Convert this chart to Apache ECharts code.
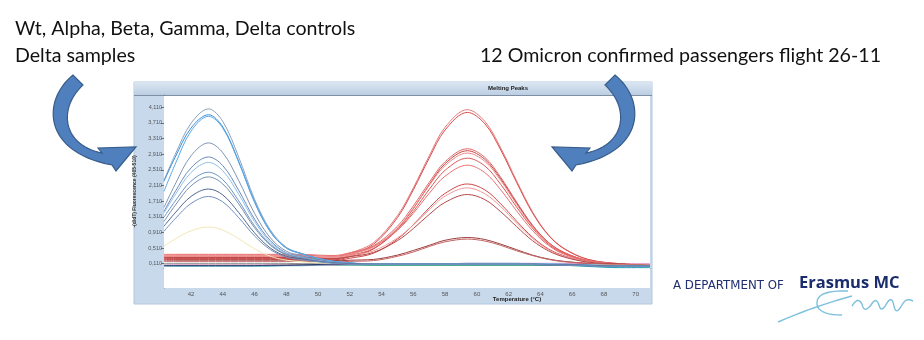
<!DOCTYPE html>
<html><head><meta charset="utf-8">
<script src="https://cdn.jsdelivr.net/npm/echarts@6/dist/echarts.min.js"></script>
<style>html,body{margin:0;padding:0;background:#fff}#c{width:924px;height:340px}</style>
</head><body><div id="c"></div>
<script>
// Temperature grid (°C)
const temperature = [40.3,41,42,43.1,44,45,46,47,48,49,50,51,52,53.5,55,56,57,58,59.4,60.5,61.5,62.5,63.5,64.5,65.5,67,69,70.9];
const xTicks = [42,44,46,48,50,52,54,56,58,60,62,64,66,68,70];
const yTicks = [0.11,0.51,0.91,1.31,1.71,2.11,2.51,2.91,3.31,3.71,4.11];

// Controls + Delta samples (blue, peak ~43 °C)
const blue1  = [2.24,2.90,3.70,4.07,3.75,2.84,1.76,0.97,0.53,0.37,0.25,0.17,0.13,0.10,0.10,0.10,0.10,0.10,0.11,0.11,0.11,0.11,0.10,0.10,0.09,0.07,0.05,0.05];
const blue2  = [2.22,2.83,3.58,3.92,3.61,2.73,1.70,0.93,0.51,0.36,0.24,0.17,0.13,0.09,0.09,0.09,0.10,0.10,0.10,0.10,0.10,0.10,0.10,0.09,0.08,0.06,0.04,0.04];
const blue3  = [1.96,2.65,3.50,3.88,3.58,2.71,1.68,0.92,0.51,0.36,0.24,0.17,0.13,0.11,0.11,0.11,0.11,0.11,0.12,0.12,0.12,0.12,0.11,0.11,0.10,0.08,0.06,0.06];
const blue4  = [1.55,2.14,2.87,3.20,2.95,2.24,1.40,0.77,0.43,0.31,0.21,0.15,0.12,0.10,0.10,0.10,0.10,0.10,0.10,0.10,0.10,0.10,0.10,0.09,0.09,0.07,0.05,0.05];
const blue5  = [1.45,1.95,2.56,2.84,2.62,1.99,1.25,0.70,0.39,0.28,0.20,0.14,0.12,0.09,0.09,0.09,0.09,0.09,0.10,0.10,0.10,0.10,0.09,0.09,0.08,0.06,0.05,0.04];
const blue6  = [1.41,1.87,2.44,2.70,2.49,1.89,1.19,0.66,0.38,0.27,0.19,0.14,0.11,0.11,0.11,0.11,0.11,0.11,0.11,0.11,0.11,0.11,0.10,0.10,0.09,0.07,0.06,0.05];
const blue7  = [1.30,1.71,2.22,2.45,2.26,1.72,1.08,0.61,0.35,0.26,0.18,0.13,0.11,0.10,0.10,0.10,0.10,0.10,0.10,0.10,0.10,0.10,0.10,0.09,0.09,0.07,0.05,0.05];
const blue8  = [1.19,1.60,2.10,2.33,2.15,1.64,1.03,0.58,0.34,0.25,0.18,0.13,0.11,0.09,0.09,0.09,0.09,0.09,0.09,0.09,0.09,0.09,0.09,0.08,0.08,0.06,0.04,0.04];
const blue9  = [1.07,1.41,1.83,2.02,1.87,1.42,0.90,0.51,0.30,0.23,0.17,0.13,0.11,0.10,0.10,0.10,0.10,0.10,0.10,0.10,0.10,0.10,0.10,0.09,0.09,0.07,0.05,0.05];
const blue10 = [0.94,1.26,1.65,1.83,1.69,1.29,0.82,0.47,0.28,0.21,0.16,0.12,0.10,0.09,0.09,0.09,0.09,0.09,0.09,0.09,0.09,0.09,0.09,0.08,0.08,0.06,0.04,0.04];
const yellow1 = [0.56,0.74,0.95,1.05,0.97,0.75,0.49,0.30,0.20,0.16,0.13,0.12,0.11,0.10,0.10,0.10,0.10,0.10,0.10,0.10,0.10,0.10,0.10,0.10,0.09,0.08,0.07,0.07];

// 12 Omicron passengers (red, peak ~59.4 °C)
const red1  = [0.30,0.30,0.30,0.30,0.30,0.30,0.30,0.30,0.30,0.30,0.28,0.27,0.38,0.65,1.34,2.05,2.87,3.60,4.05,3.75,3.07,2.23,1.44,0.85,0.50,0.22,0.11,0.08];
const red2  = [0.26,0.26,0.26,0.26,0.26,0.26,0.26,0.26,0.26,0.26,0.24,0.23,0.34,0.61,1.29,2.00,2.81,3.53,3.98,3.69,3.02,2.19,1.41,0.84,0.49,0.22,0.11,0.07];
const red3  = [0.33,0.33,0.33,0.33,0.33,0.33,0.33,0.33,0.33,0.33,0.31,0.30,0.38,0.57,1.07,1.59,2.19,2.72,3.05,2.83,2.32,1.69,1.10,0.66,0.40,0.19,0.10,0.07];
const red4  = [0.24,0.24,0.24,0.24,0.24,0.24,0.24,0.24,0.24,0.24,0.22,0.21,0.29,0.49,1.00,1.52,2.13,2.67,3.00,2.78,2.28,1.66,1.08,0.65,0.39,0.19,0.10,0.06];
const red5  = [0.30,0.30,0.30,0.30,0.30,0.30,0.30,0.30,0.30,0.30,0.28,0.27,0.35,0.54,1.02,1.53,2.11,2.62,2.94,2.73,2.24,1.63,1.06,0.64,0.38,0.19,0.10,0.07];
const red6  = [0.28,0.28,0.28,0.28,0.28,0.28,0.28,0.28,0.28,0.28,0.26,0.25,0.32,0.50,0.97,1.45,2.01,2.50,2.81,2.61,2.14,1.56,1.02,0.61,0.37,0.18,0.10,0.06];
const red7  = [0.35,0.35,0.35,0.35,0.35,0.35,0.35,0.35,0.35,0.35,0.33,0.32,0.39,0.55,0.97,1.40,1.91,2.35,2.63,2.44,2.00,1.46,0.96,0.58,0.35,0.18,0.10,0.07];
const red8  = [0.22,0.22,0.22,0.22,0.22,0.22,0.22,0.22,0.22,0.22,0.20,0.19,0.25,0.38,0.74,1.11,1.54,1.91,2.15,2.00,1.64,1.20,0.79,0.49,0.31,0.16,0.10,0.06];
const red9  = [0.30,0.30,0.30,0.30,0.30,0.30,0.30,0.30,0.30,0.30,0.28,0.27,0.32,0.44,0.77,1.10,1.49,1.84,2.05,1.90,1.57,1.15,0.76,0.47,0.30,0.16,0.10,0.07];
const red10 = [0.27,0.27,0.27,0.27,0.27,0.27,0.27,0.27,0.27,0.27,0.25,0.24,0.29,0.40,0.70,1.01,1.37,1.68,1.88,1.75,1.44,1.06,0.70,0.44,0.28,0.15,0.10,0.06];
const red11 = [0.20,0.20,0.20,0.20,0.20,0.20,0.20,0.20,0.20,0.20,0.19,0.18,0.20,0.22,0.33,0.45,0.58,0.71,0.78,0.73,0.61,0.47,0.33,0.23,0.17,0.12,0.10,0.07];
const red12 = [0.17,0.17,0.17,0.17,0.17,0.17,0.17,0.17,0.17,0.17,0.16,0.15,0.17,0.19,0.30,0.41,0.55,0.67,0.74,0.69,0.58,0.44,0.32,0.22,0.16,0.12,0.09,0.06];

// Negative / other channels (flat)
const grey1  = [0.12,0.12,0.12,0.12,0.12,0.12,0.12,0.12,0.12,0.11,0.11,0.11,0.11,0.11,0.11,0.11,0.11,0.11,0.11,0.11,0.11,0.11,0.11,0.11,0.10,0.10,0.09,0.09];
const green1 = [0.07,0.07,0.07,0.07,0.07,0.07,0.07,0.07,0.08,0.09,0.09,0.08,0.08,0.07,0.07,0.07,0.07,0.07,0.07,0.07,0.07,0.07,0.07,0.07,0.07,0.06,0.05,0.05];
const teal1  = [0.05,0.05,0.05,0.05,0.05,0.05,0.05,0.05,0.06,0.06,0.07,0.08,0.08,0.08,0.08,0.08,0.08,0.08,0.08,0.08,0.08,0.08,0.08,0.08,0.07,0.04,0.01,0.01];
const pink1  = [0.08,0.08,0.08,0.08,0.08,0.08,0.08,0.08,0.08,0.08,0.08,0.08,0.09,0.09,0.10,0.10,0.11,0.11,0.12,0.12,0.12,0.12,0.12,0.12,0.12,0.12,0.11,0.11];
const navy1  = [0.06,0.06,0.06,0.06,0.06,0.06,0.06,0.07,0.07,0.08,0.09,0.10,0.10,0.10,0.10,0.10,0.09,0.09,0.09,0.09,0.09,0.09,0.09,0.08,0.08,0.07,0.06,0.06];

const lines = [
  [grey1,'#8a8a8a'],[green1,'#3aa655'],[teal1,'#1a9aa8'],[pink1,'#e58ac0'],[navy1,'#2a3a70'],
  [red1,'#e87878'],[red2,'#d85050'],[red3,'#e26868'],[red4,'#c84444'],[red5,'#ee8888'],[red6,'#da5858'],
  [red7,'#ea7272'],[red8,'#cc4a4a'],[red9,'#f29a9a'],[red10,'#b84848'],[red11,'#9c3c3c'],[red12,'#c46464'],
  [yellow1,'#f4e8b6'],
  [blue1,'#8aa2c4'],[blue2,'#3a8fd8'],[blue3,'#5aa8e4'],[blue4,'#7f95b5'],[blue5,'#6b8bbf'],
  [blue6,'#90c0e8'],[blue7,'#6a95c8'],[blue8,'#7890b0'],[blue9,'#506890'],[blue10,'#7090c0']
];

const series = lines.map(([arr,col]) => ({
  type:'line', showSymbol:false, smooth:0.35, silent:true, animation:false,
  lineStyle:{width:1,color:col}, itemStyle:{color:col},
  data: temperature.map((t,i)=>[t,arr[i]])
}));

// decoration helpers (bezier sampling for arrow outlines / signature)
function cubic(p0,p1,p2,p3,n){const o=[];for(let i=0;i<=n;i++){const t=i/n,u=1-t;
  o.push([u*u*u*p0[0]+3*u*u*t*p1[0]+3*u*t*t*p2[0]+t*t*t*p3[0], u*u*u*p0[1]+3*u*u*t*p1[1]+3*u*t*t*p2[1]+t*t*t*p3[1]]);}return o;}
function quad(p0,p1,p2,n){const o=[];for(let i=0;i<=n;i++){const t=i/n,u=1-t;
  o.push([u*u*p0[0]+2*u*t*p1[0]+t*t*p2[0], u*u*p0[1]+2*u*t*p1[1]+t*t*p2[1]]);}return o;}
const leftArrow = [].concat(cubic([73,75],[42,100],[42,152],[112,165],30),[[116,171],[136,147],[98,148]],cubic([102,153],[62,145],[58,108],[83,85],30));
const rightArrow = leftArrow.map(p=>[688-p[0],p[1]]);
const sig1 = quad([778,322],[815,306],[852,296],12);
const sig2 = [].concat(quad([848,291],[818,290],[817,302],10),quad([817,302],[816,315],[842,315],10));
const sig4 = [].concat(quad([852,306],[858,296],[862,304],6),quad([862,304],[864,314],[871,305],6),quad([871,305],[876,296],[879,305],6),
  quad([879,305],[881,314],[887,303],6),quad([887,303],[892,295],[894,306],6),quad([894,306],[896,316],[902,305],6),quad([902,305],[906,297],[913,301],6));

const arrowStyle = {fill:'#4f7fbd', stroke:'#385d8a', lineWidth:1.2};
const sigStyle = {fill:null, stroke:'#7cc0de', lineWidth:1.4};
const txt = (x,y,text,font,fill,align,z) => ({type:'text',x,y,z:z||50,
  style:{text,font,fill,textAlign:align||'left',textVerticalAlign:'middle',align:align||'left',verticalAlign:'middle'}});

const chart = echarts.init(document.getElementById('c'), null, {renderer:'canvas'});
chart.setOption({
  backgroundColor:'#ffffff',
  animation:false,
  grid:{left:164,right:274,top:95,bottom:52,show:true,backgroundColor:'#ffffff',borderWidth:0,z:1},
  xAxis:{type:'value',min:40.3,max:70.9,
    splitLine:{show:false},
    axisLine:{lineStyle:{color:'#6a6f78',width:1}},
    axisTick:{show:true,length:2,customValues:xTicks,lineStyle:{color:'#6a6f78'}},
    axisLabel:{customValues:xTicks,fontSize:6,color:'#555',margin:3,fontFamily:'Liberation Sans'}},
  yAxis:{type:'value',min:-0.511,max:4.425,
    splitLine:{show:false},
    name:'-(d/dT) Fluorescence (465-510)',nameLocation:'middle',nameGap:17,
    nameTextStyle:{fontSize:5,color:'#333',fontWeight:'bold',fontFamily:'Liberation Sans'},
    axisLine:{show:true,lineStyle:{color:'#6a6f78',width:1}},
    axisTick:{show:true,length:3,customValues:yTicks,lineStyle:{color:'#6a6f78'}},
    axisLabel:{customValues:yTicks,fontSize:5.5,color:'#555',margin:2,fontFamily:'Liberation Sans',
      formatter:v=>v.toFixed(3).replace('.',',')}},
  series,
  graphic:[
    {type:'rect',z:-10,shape:{x:134,y:82,width:518,height:222},style:{fill:'#c8d9ec',stroke:'#b3c6dc',lineWidth:1}},
    {type:'rect',z:-9,shape:{x:134,y:82,width:518,height:13},
      style:{fill:{type:'linear',x:0,y:0,x2:0,y2:1,colorStops:[{offset:0,color:'#dbe6f2'},{offset:1,color:'#bccee3'}]}}},
    {type:'line',z:60,shape:{x1:134,y1:95.5,x2:652,y2:95.5},style:{stroke:'#7f8fa3',lineWidth:1}},
    txt(508,88.5,'Melting Peaks','bold 6px "Liberation Sans"','#222','center',60),
    txt(517,299,'Temperature (°C)','bold 6px "Liberation Sans"','#222','center',60),
    txt(15,29,'Wt, Alpha, Beta, Gamma, Delta controls','19.6px Lato','#111','left'),
    txt(15,56,'Delta samples','19.6px Lato','#111','left'),
    txt(480,56,'12 Omicron confirmed passengers flight 26-11','19.6px Lato','#111','left'),
    {type:'polygon',z:100,shape:{points:leftArrow},style:arrowStyle},
    {type:'polygon',z:100,shape:{points:rightArrow},style:arrowStyle},
    txt(673,285.5,'A DEPARTMENT OF','11.8px "DejaVu Sans"','#1f2f6f','left'),
    txt(799,283,'Erasmus MC','bold 16.5px "Open Sans"','#1c2d6e','left'),
    {type:'polyline',z:50,shape:{points:sig1},style:sigStyle},
    {type:'polyline',z:50,shape:{points:sig2},style:sigStyle},
    {type:'polyline',z:50,shape:{points:sig4},style:sigStyle}
  ]
});
</script></body></html>
